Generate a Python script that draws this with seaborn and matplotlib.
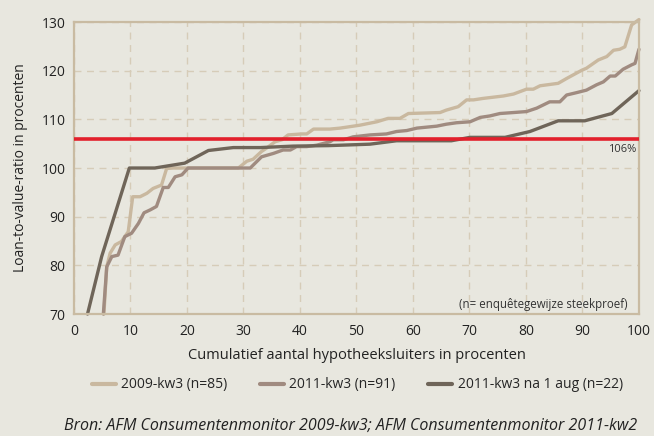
import pandas as pd
import seaborn as sns
import matplotlib.pyplot as plt

# Data (x = cumulatief %, y = LTV %)
x_2009 = [5.3, 5.8, 6.4, 7.3, 8.4, 9.6, 10.4, 11.7, 12.9, 14.0, 15.5, 16.4, 17.6, 29.1, 30.6, 31.7,
          33.2, 34.1, 35.6, 36.8, 37.9, 40.3, 41.2, 42.4, 45.3, 47.1, 50.6, 53.6, 55.6, 57.7, 59.2,
          64.8, 65.9, 68.0, 69.5, 70.7, 72.4, 76.0, 77.8, 80.1, 81.3, 82.5, 85.7, 87.2, 89.9, 90.7,
          92.8, 94.3, 95.5, 96.6, 97.5, 98.7, 100]
y_2009 = [70, 79.7, 82.5, 84.2, 84.9, 86.9, 94.1, 94.1, 94.8, 95.8, 96.5, 99.9, 100, 100, 101.4, 101.8,
          103.4, 104.1, 105.4, 105.8, 106.8, 107.0, 107.0, 108.0, 108.0, 108.2, 108.8, 109.5, 110.2, 110.2, 111.2,
          111.4, 111.9, 112.6, 114.0, 114.0, 114.3, 114.8, 115.2, 116.2, 116.2, 116.9, 117.4, 118.4, 120.1, 120.5,
          122.2, 122.9, 124.2, 124.4, 124.9, 129.4, 130.5]

x_2011 = [5.2, 5.8, 6.7, 7.8, 9.0, 10.2, 11.4, 12.4, 13.5, 14.6, 15.8, 16.7, 17.9, 19.1, 20.2, 31.2,
          33.2, 35.3, 37.0, 38.3, 39.4, 41.2, 43.0, 45.3, 45.9, 47.7, 49.4, 52.4, 55.3, 57.1, 58.9,
          60.7, 64.2, 65.9, 67.7, 70.1, 71.9, 73.6, 75.4, 77.8, 80.1, 81.9, 84.2, 86.0, 87.2, 89.0,
          90.7, 92.5, 93.7, 94.9, 95.8, 97.2, 98.7, 99.3, 100]
y_2011 = [70, 79.7, 81.8, 82.1, 85.9, 86.6, 88.6, 90.8, 91.4, 92.1, 96.0, 96.0, 98.2, 98.6, 100, 100,
          102.3, 103.0, 103.7, 103.7, 104.4, 104.4, 104.7, 105.4, 105.8, 105.8, 106.4, 106.8, 107.0, 107.5, 107.7,
          108.2, 108.6, 109.0, 109.3, 109.5, 110.4, 110.7, 111.2, 111.4, 111.6, 112.3, 113.6, 113.6, 115.0, 115.5,
          116.0, 117.1, 117.7, 118.9, 118.9, 120.3, 121.2, 121.5, 124.4]

x_aug = [2.4, 4.9, 9.8, 14.3, 19.6, 23.8, 28.2, 33.0, 38.8, 45.0, 50.0, 52.4, 57.1, 61.9, 66.8, 70.1,
         76.3, 80.7, 85.7, 90.4, 95.2, 100]
y_aug = [70, 81.8, 100, 100, 101.0, 103.6, 104.2, 104.2, 104.5, 104.6, 104.8, 104.9, 105.6, 105.6, 105.6, 106.3,
         106.3, 107.5, 109.7, 109.7, 111.2, 115.9]

series = ['2009-kw3 (n=85)', '2011-kw3 (n=91)', '2011-kw3 na 1 aug (n=22)']
colors = ['#c9b89f', '#a08b80', '#6f6559']
grens = 106

df = pd.concat([
    pd.DataFrame({'x': x_2009, 'y': y_2009, 'reeks': series[0]}),
    pd.DataFrame({'x': x_2011, 'y': y_2011, 'reeks': series[1]}),
    pd.DataFrame({'x': x_aug, 'y': y_aug, 'reeks': series[2]}),
])

bg = '#e8e7df'
spine_col = '#c9bba2'
grid_col = '#d6ccb8'
txt = '#222222'

sns.set_theme(style='white', rc={'axes.facecolor': bg, 'figure.facecolor': bg})
plt.rcParams['font.family'] = ['Open Sans', 'DejaVu Sans']

fig, ax = plt.subplots(figsize=(6.54, 4.36), dpi=100)
fig.subplots_adjust(left=0.1131, right=0.977, bottom=0.2798, top=0.9495)

sns.lineplot(data=df, x='x', y='y', hue='reeks', palette=dict(zip(series, colors)),
             sort=False, estimator=None, units='reeks', linewidth=2.4, legend=False, ax=ax)
for l in ax.get_lines():
    l.set_clip_on(False)
    l.set_solid_joinstyle('round')

ax.axhline(grens, color='#e2202c', linewidth=2.6, zorder=5)
ax.text(99.5, grens - 1.1, '106%', ha='right', va='top', fontsize=8, color='#333333')
ax.text(98, 70.6, '(n= enquêtegewijze steekproef)', ha='right', va='bottom', fontsize=8.3, color='#333333')

ax.set_xlim(0, 100)
ax.set_ylim(70, 130)
ax.set_xticks(range(0, 101, 10))
ax.set_yticks(range(70, 131, 10))
ax.grid(True, color=grid_col, linestyle=(0, (5, 4)), linewidth=1.0)
ax.set_axisbelow(True)
for s in ax.spines.values():
    s.set_visible(True)
    s.set_color(spine_col)
    s.set_linewidth(1.6)
ax.tick_params(axis='y', length=4, width=1.2, color=spine_col, labelsize=10, pad=2, labelcolor=txt)
ax.tick_params(axis='x', length=0, labelsize=10, pad=7, labelcolor=txt)

ax.set_xlabel('Cumulatief aantal hypotheeksluiters in procenten', fontsize=10.5, color=txt, labelpad=7)
ax.set_ylabel('Loan-to-value-ratio in procenten', fontsize=10, color=txt, labelpad=10)

handles = [plt.Line2D([], [], color=c, linewidth=3) for c in colors]
fig.legend(handles, series, loc='center', bbox_to_anchor=(0.546, 0.117), ncol=3, frameon=False,
           fontsize=10, handlelength=1.75, handletextpad=0.4, columnspacing=2.3)

fig.text(0.975, 0.004, 'Bron: AFM Consumentenmonitor 2009-kw3; AFM Consumentenmonitor 2011-kw2',
         ha='right', va='bottom', fontsize=11.5, style='italic', color=txt)

fig.savefig('out.png', dpi=100, facecolor=bg)
